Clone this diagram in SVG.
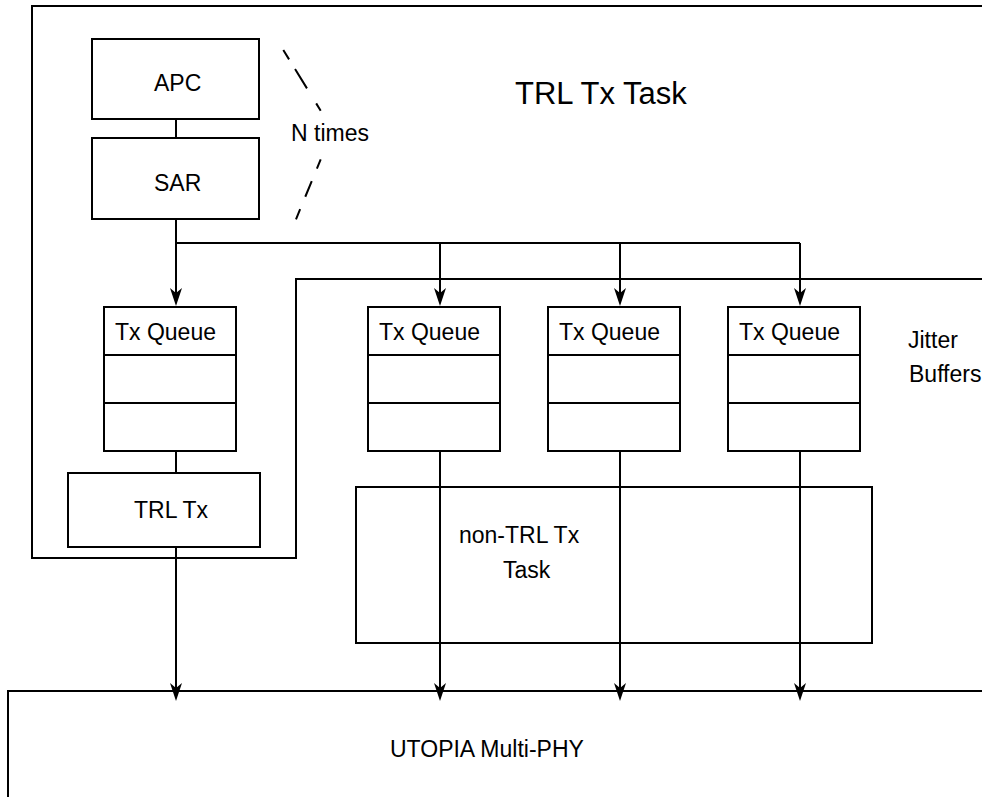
<svg xmlns="http://www.w3.org/2000/svg" width="982" height="797" viewBox="0 0 982 797">
<style>
.b{fill:#fff;stroke:#000;stroke-width:2}
.l{fill:none;stroke:#000;stroke-width:2}
.t{font-family:"Liberation Sans",Arial,sans-serif;font-size:23px;fill:#000}
</style>
<defs>
<marker id="ah" viewBox="0 0 18 12" refX="13" refY="6" markerWidth="18" markerHeight="12" markerUnits="userSpaceOnUse" orient="auto">
<path d="M18,6 L0,0 L5,6 L0,12 Z" fill="#000"/>
</marker>
</defs>
<rect width="982" height="797" fill="#fff"/>
<g id="trl-task">
<path class="l" d="M982,6 H32 V558 H296 V279 H982"/>
<text class="t" x="515" y="104" style="font-size:31px">TRL Tx Task</text>
</g>
<g id="utopia">
<path class="l" d="M982,691 H8 V797"/>
<text class="t" x="390" y="757">UTOPIA Multi-PHY</text>
</g>
<g id="nontrl">
<rect class="b" x="356" y="487" width="516" height="156"/>
<text class="t" x="459" y="543">non-TRL Tx</text>
<text class="t" x="503" y="578">Task</text>
</g>
<g id="connectors">
<line class="l" x1="176" y1="119" x2="176" y2="138"/>
<path class="l" d="M176,219 V301" marker-end="url(#ah)"/>
<path class="l" d="M176,243 H800"/>
<path class="l" d="M440,243 V301" marker-end="url(#ah)"/>
<path class="l" d="M620,243 V301" marker-end="url(#ah)"/>
<path class="l" d="M800,243 V301" marker-end="url(#ah)"/>
<line class="l" x1="176" y1="451" x2="176" y2="473"/>
<path class="l" d="M176,547 V696" marker-end="url(#ah)"/>
<path class="l" d="M440,451 V696" marker-end="url(#ah)"/>
<path class="l" d="M620,451 V696" marker-end="url(#ah)"/>
<path class="l" d="M800,451 V696" marker-end="url(#ah)"/>
</g>
<g id="apc">
<rect class="b" x="92" y="39" width="167" height="80"/>
<text class="t" x="154" y="91">APC</text>
</g>
<g id="sar">
<rect class="b" x="92" y="138" width="167" height="81"/>
<text class="t" x="154" y="191">SAR</text>
</g>
<g id="ntimes">
<line class="l" x1="283.3" y1="50" x2="320.7" y2="110.7" stroke-dasharray="11 11.4 22.7 17.6 9 20"/>
<line class="l" x1="320.7" y1="159.3" x2="296" y2="219.3" stroke-dasharray="10 13.5 17 13.5 11 20"/>
<text class="t" x="291" y="141">N times</text>
</g>
<g id="txq1">
<rect class="b" x="104" y="307" width="132" height="144"/>
<line class="l" x1="104" y1="355" x2="236" y2="355"/>
<line class="l" x1="104" y1="403" x2="236" y2="403"/>
<text class="t" x="115" y="340">Tx Queue</text>
</g>
<g id="txq2">
<rect class="b" x="368" y="307" width="132" height="144"/>
<line class="l" x1="368" y1="355" x2="500" y2="355"/>
<line class="l" x1="368" y1="403" x2="500" y2="403"/>
<text class="t" x="379" y="340">Tx Queue</text>
</g>
<g id="txq3">
<rect class="b" x="548" y="307" width="132" height="144"/>
<line class="l" x1="548" y1="355" x2="680" y2="355"/>
<line class="l" x1="548" y1="403" x2="680" y2="403"/>
<text class="t" x="559" y="340">Tx Queue</text>
</g>
<g id="txq4">
<rect class="b" x="728" y="307" width="132" height="144"/>
<line class="l" x1="728" y1="355" x2="860" y2="355"/>
<line class="l" x1="728" y1="403" x2="860" y2="403"/>
<text class="t" x="739" y="340">Tx Queue</text>
</g>
<g id="trltx">
<rect class="b" x="68" y="473" width="192" height="74"/>
<text class="t" x="134" y="518">TRL Tx</text>
</g>
<g id="jitter">
<text class="t" x="908" y="348">Jitter</text>
<text class="t" x="909" y="382">Buffers</text>
</g>
</svg>
